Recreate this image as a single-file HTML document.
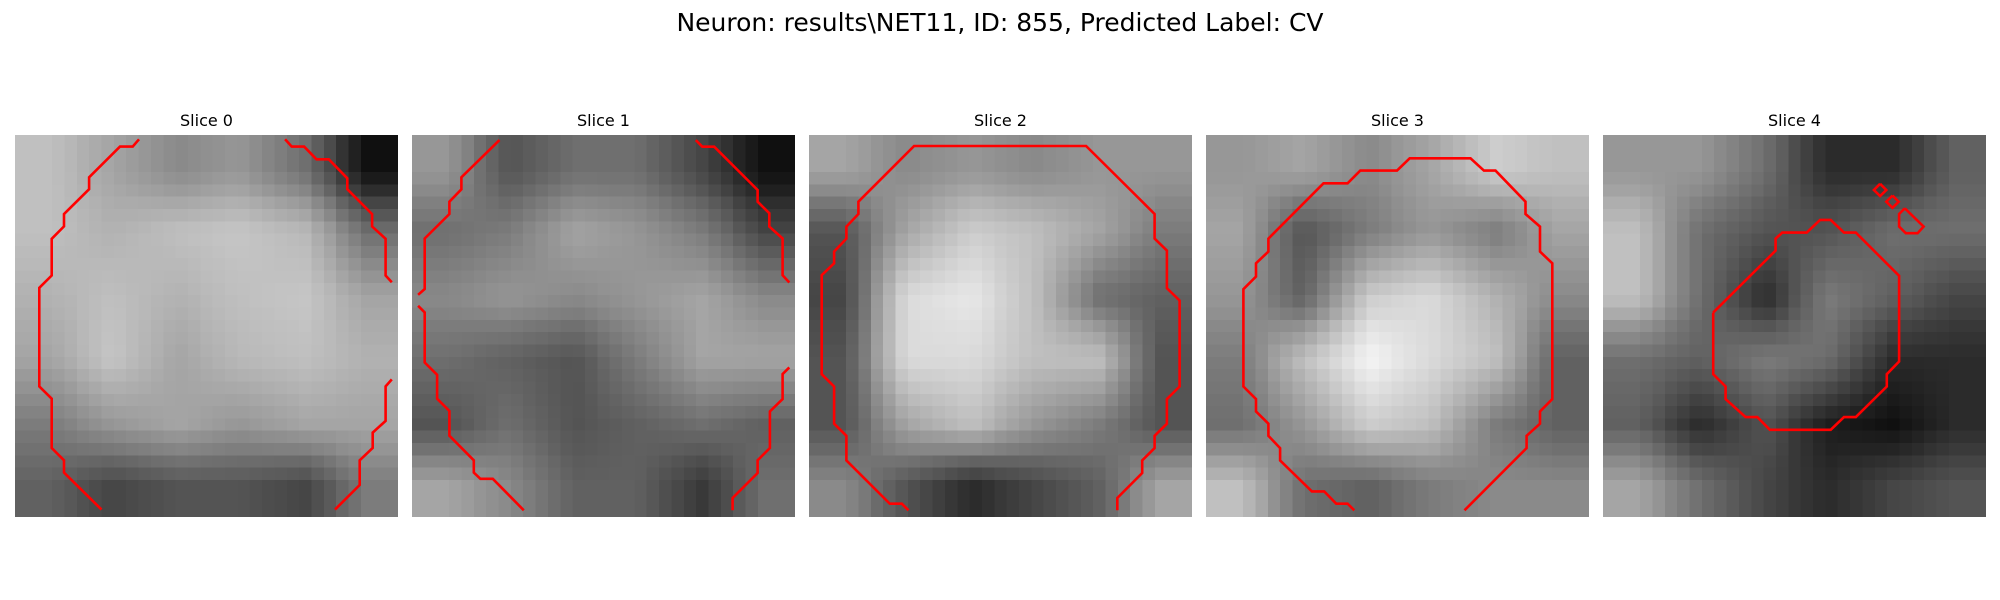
<!DOCTYPE html>
<html><head><meta charset="utf-8"><style>
body{margin:0;background:#fff;width:2000px;height:600px;overflow:hidden;font-family:"DejaVu Sans","Liberation Sans",sans-serif}
#main-title{position:absolute;left:0;width:2000px;top:8px;text-align:center;font-size:25px;color:#000}
.ttl{position:absolute;width:383px;text-align:center;font-size:16px;top:111px;color:#000}
canvas{position:absolute;top:135px;width:383px;height:382px}
svg{position:absolute;left:0;top:0}
</style></head><body>
<div id="main-title">Neuron: results\NET11, ID: 855, Predicted Label: CV</div>
<div id="root"></div>
<svg id="ov" width="2000" height="600"></svg>
<script>
const sliceLabels=["Slice 0","Slice 1","Slice 2","Slice 3","Slice 4"];
const gridN=31;
const intensity0=[[170,150,130,140,110,40],[170,160,170,175,165,110],[160,170,160,170,175,150],[150,175,150,165,170,160],[120,140,150,140,150,150],[100,80,90,90,80,120]];
const intensity1=[[140,90,110,110,80,40],[110,120,150,140,120,80],[130,140,130,140,150,130],[110,100,90,120,150,150],[90,110,90,100,110,100],[150,130,100,100,70,110]];
const intensity2=[[150,130,140,130,140,140],[90,150,180,170,150,120],[80,190,200,170,110,100],[90,190,190,170,170,90],[90,150,170,140,120,90],[130,90,60,80,100,150]];
const intensity3=[[140,150,130,150,180,170],[150,90,120,140,120,150],[140,100,180,190,160,130],[120,170,210,190,170,100],[110,140,180,170,120,100],[170,110,100,120,130,130]];
const intensity4=[[140,140,110,60,60,100],[170,110,90,90,110,110],[170,110,60,120,100,80],[110,100,120,110,60,60],[100,60,90,50,40,60],[150,110,80,60,80,90]];
const contours0=[
[[10.04,0.35],[9.53,0.94],[8.5,0.94],[6,3.43],[6,4.4],[3.97,6.42],[3.97,7.42],[2.97,8.42],[2.97,11.4],[1.97,12.4],[1.97,20.4],[2.97,21.4],[2.97,25.4],[3.97,26.4],[3.97,27.4],[7,30.4]],
[[21.86,0.35],[22.4,0.94],[23.4,0.94],[24.4,1.97],[25.4,1.97],[26.9,3.51],[26.9,4.4],[28.9,6.42],[28.9,7.42],[30,8.42],[30,11.4],[30.5,11.95]],
[[30.5,19.83],[30,20.4],[30,23.2],[28.95,24.15],[28.95,25.4],[27.9,26.4],[27.9,28.4],[25.9,30.4]]];
const contours1=[
[[7.08,0.41],[4,3.43],[4,4.41],[3.03,5.41],[3.03,6.41],[1.03,8.4],[1.03,12.5],[0.49,12.97]],
[[0.49,13.86],[1.03,14.4],[1.03,18.46],[2.03,19.46],[2.03,21.4],[3.03,22.4],[3.03,24.4],[5,26.4],[5,27.4],[5.54,27.9],[6.54,27.9],[9.05,30.46]],
[[22.97,0.41],[23.5,0.95],[24.46,0.95],[27.97,4.46],[27.97,5.41],[28.92,6.35],[28.92,7.43],[30,8.4],[30,11.38],[30.54,11.97]],
[[30.54,18.86],[30,19.4],[30,21.43],[28.97,22.43],[28.97,25.4],[27.97,26.4],[27.97,27.43],[25.95,29.46],[25.95,30.46]]];
const contours2=[
[[8.05,30.46],[7.51,29.92],[6.54,29.92],[3.03,26.41],[3.03,24.41],[2.03,23.43],[2.03,20.41],[1.03,19.41],[1.03,11.38],[2.03,10.41],[2.03,9.46],[3.03,8.41],[3.03,7.43],[4,6.41],[4,5.41],[8.51,0.89],[22.43,0.89],[27.97,6.41],[27.97,8.41],[28.97,9.38],[28.97,12.43],[30,13.43],[30,20.41],[28.97,21.43],[28.97,23.43],[27.97,24.41],[27.97,25.41],[26.97,26.41],[26.97,27.43],[24.95,29.46],[24.95,30.46]]];
const contours3=[
[[12,30.46],[11.46,29.92],[10.54,29.92],[9.57,28.92],[8.57,28.92],[6,26.41],[6,25.41],[5.05,24.41],[5.05,23.43],[4.05,22.43],[4.05,21.43],[3.03,20.41],[3.03,12.51],[4.05,11.49],[4.05,10.41],[5.05,9.46],[5.05,8.41],[9.51,3.92],[11.46,3.92],[12.49,2.89],[15.46,2.89],[16.49,1.89],[21.41,1.89],[22.49,2.89],[23.43,2.89],[25.86,5.41],[25.86,6.41],[27.03,7.43],[27.03,9.46],[28.03,10.41],[28.03,21.43],[27.03,22.43],[27.03,23.43],[25.95,24.41],[25.95,25.41],[20.92,30.46]]];
const contours4=[
[[8.92,14.41],[13.97,9.38],[13.97,8.41],[14.51,7.92],[16.49,7.92],[17.57,6.89],[18.43,6.89],[19.51,7.92],[20.46,7.92],[23.97,11.43],[23.97,18.38],[22.97,19.41],[22.97,20.41],[20.46,22.89],[19.51,22.89],[18.43,23.92],[13.51,23.92],[12.49,22.89],[11.54,22.89],[9.92,21.43],[9.92,20.41],[8.92,19.41],[8.92,14.41]],
[[22.43,3.96],[22.93,4.46],[22.43,4.96],[21.93,4.46],[22.43,3.96]],
[[23.43,4.91],[23.93,5.41],[23.43,5.91],[22.93,5.41],[23.43,4.91]],
[[24.43,5.95],[25.95,7.43],[25.46,7.97],[24.51,7.97],[23.97,7.43],[23.97,6.41],[24.43,5.95]]];
const intensities=[intensity0,intensity1,intensity2,intensity3,intensity4];
const contourSets=[contours0,contours1,contours2,contours3,contours4];
const panelLeft=[15,412,809,1206,1603];
const panelTop=135, panelW=383, panelH=382;
const root=document.getElementById('root');
const ov=document.getElementById('ov');
const NS='http://www.w3.org/2000/svg';
function xs(p,u){return panelLeft[p]+u/gridN*panelW;}
function ys(v){return panelTop+v/gridN*panelH;}
function tone(v){return Math.max(0,Math.min(255,Math.round(135+(v-128)*1.35)));}
sliceLabels.forEach((lab,p)=>{
  const t=document.createElement('div');
  t.className='ttl';t.style.left=panelLeft[p]+'px';t.textContent=lab;
  
  
  root.appendChild(t);
  const big=document.createElement('canvas');
  big.width=gridN;big.height=gridN;big.style.left=panelLeft[p]+'px';
  
  
  const g=intensities[p];const n=g.length;
  const sm=document.createElement('canvas');sm.width=n;sm.height=n;
  const sc=sm.getContext('2d');const id=sc.createImageData(n,n);
  for(let r=0;r<n;r++)for(let c=0;c<n;c++){const i=(r*n+c)*4;id.data[i]=id.data[i+1]=id.data[i+2]=tone(g[r][c]);id.data[i+3]=255;}
  sc.putImageData(id,0,0);
  const bc=big.getContext('2d');bc.imageSmoothingEnabled=true;
  bc.drawImage(sm,0,0,gridN,gridN);
  big.style.imageRendering='pixelated';
  root.appendChild(big);
  contourSets[p].forEach((pts,k)=>{
    const pl=document.createElementNS(NS,'polyline');
    pl.setAttribute('points',pts.map(q=>xs(p,q[0]).toFixed(1)+','+ys(q[1]).toFixed(1)).join(' '));
    pl.setAttribute('fill','none');pl.setAttribute('stroke','#ff0000');pl.setAttribute('stroke-width','2.6');
    
    
    ov.appendChild(pl);
  });
});
</script>
</body></html>
